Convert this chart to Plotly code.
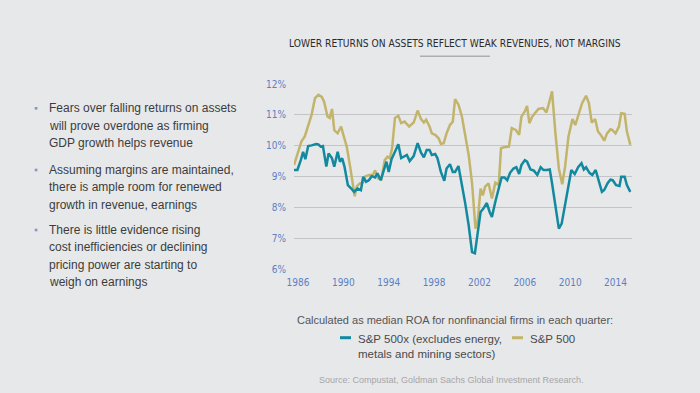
import plotly.graph_objects as go

# ---- data ----
sp500_years = [1985.65, 1986.3, 1986.6, 1986.9, 1987.2, 1987.5, 1987.8, 1988.1, 1988.3, 1988.6, 1988.8, 1989.0,
               1989.2, 1989.5, 1989.8, 1990.0, 1990.3, 1990.6, 1990.8, 1991.0, 1991.2, 1991.45, 1991.7, 1991.95,
               1992.3, 1992.6, 1992.8, 1993.05, 1993.35, 1993.65, 1993.9, 1994.1, 1994.3, 1994.55, 1994.85, 1995.1,
               1995.4, 1995.65, 1995.8, 1996.2, 1996.55, 1996.85, 1997.1, 1997.3, 1997.6, 1997.8, 1998.1, 1998.4,
               1998.6, 1998.85, 1999.1, 1999.4, 1999.65, 1999.85, 2000.15, 2000.45, 2000.75, 2001.05, 2001.35,
               2001.5, 2001.65, 2001.85, 2002.1, 2002.3, 2002.5, 2002.8, 2003.1, 2003.4, 2003.7, 2003.9, 2004.15,
               2004.6, 2004.85, 2005.2, 2005.5, 2005.7, 2006.0, 2006.2, 2006.4, 2006.65, 2006.9, 2007.2, 2007.6,
               2007.9, 2008.1, 2008.4, 2008.7, 2009.0, 2009.3, 2009.55, 2009.85, 2010.2, 2010.45, 2010.75, 2011.05,
               2011.4, 2011.65, 2011.9, 2012.2, 2012.45, 2012.7, 2013.0, 2013.25, 2013.55, 2013.7, 2014.0, 2014.3,
               2014.5, 2014.8, 2015.0, 2015.3]
sp500_roa = [9.37, 10.13, 10.3, 10.62, 11.0, 11.54, 11.65, 11.58, 11.43, 10.95, 10.9, 11.19,
             10.5, 10.4, 10.62, 10.35, 9.97, 9.32, 8.78, 8.36, 8.69, 8.78, 8.8, 9.01,
             9.05, 9.05, 9.2, 8.94, 8.9, 9.53, 9.64, 9.59, 9.92, 10.9, 10.97, 10.73,
             10.78, 10.67, 10.62, 10.75, 11.14, 10.86, 10.75, 10.84, 10.62, 10.4, 10.35, 10.24,
             10.06, 10.08, 10.4, 10.67, 10.78, 11.51, 11.33, 10.95, 10.35, 9.7, 8.78,
             8.01, 7.31, 7.58, 8.61, 8.39, 8.67, 8.78, 8.29, 8.8, 8.72, 9.92, 9.95,
             9.97, 10.57, 10.51, 10.35, 10.94, 11.11, 11.29, 10.73, 10.94, 11.05, 11.19, 11.22,
             11.08, 11.33, 11.76, 10.4, 9.26, 8.75, 9.32, 10.3, 10.86, 10.67, 11.05, 11.38,
             11.62, 11.38, 10.75, 10.86, 10.46, 10.35, 10.16, 10.4, 10.53, 10.51, 10.4, 10.62,
             11.05, 11.03, 10.46, 10.03]

sp500x_years = [1985.65, 1985.95, 1986.25, 1986.45, 1986.65, 1986.9, 1987.2, 1987.6, 1987.8, 1988.0, 1988.2,
                1988.5, 1988.7, 1989.0, 1989.2, 1989.5, 1989.7, 1989.9, 1990.1, 1990.4, 1990.7, 1990.95,
                1991.25, 1991.55, 1991.75, 1992.0, 1992.25, 1992.5, 1992.8, 1993.0, 1993.3, 1993.6, 1993.8,
                1994.0, 1994.25, 1994.55, 1994.85, 1995.1, 1995.35, 1995.6, 1995.85, 1996.2, 1996.55, 1996.85,
                1997.1, 1997.35, 1997.6, 1997.8, 1998.1, 1998.3, 1998.6, 1998.9, 1999.1, 1999.4, 1999.65,
                1999.85, 2000.15, 2000.45, 2000.75, 2001.05, 2001.35, 2001.6, 2001.85, 2002.1, 2002.35, 2002.65,
                2002.9, 2003.1, 2003.4, 2003.7, 2003.95, 2004.2, 2004.45, 2004.7, 2005.0, 2005.25, 2005.5,
                2005.7, 2006.0, 2006.2, 2006.5, 2006.8, 2007.1, 2007.4, 2007.65, 2007.95, 2008.2, 2008.4,
                2008.7, 2009.0, 2009.25, 2009.5, 2009.8, 2010.1, 2010.4, 2010.7, 2011.0, 2011.2, 2011.4,
                2011.7, 2011.95, 2012.25, 2012.5, 2012.8, 2013.0, 2013.3, 2013.55, 2013.75, 2014.05, 2014.35,
                2014.5, 2014.8, 2015.0, 2015.3]
sp500x_roa = [9.21, 9.21, 9.53, 9.8, 9.56, 9.99, 10.01, 10.05, 10.04, 9.97, 9.99,
              9.32, 9.75, 9.59, 9.32, 9.8, 9.48, 9.59, 9.32, 8.72, 8.61, 8.5,
              8.61, 8.56, 8.99, 8.83, 8.88, 9.01, 8.97, 9.1, 8.88, 9.26, 9.48,
              9.15, 9.56, 9.8, 10.05, 9.6, 9.64, 9.7, 9.5, 9.66, 10.08, 9.77,
              9.62, 9.86, 9.86, 9.7, 9.73, 9.59, 9.15, 8.86, 9.26, 9.4, 9.15,
              9.15, 9.34, 8.78, 8.12, 7.42, 6.55, 6.51, 7.26, 7.85, 7.96, 8.14,
              7.85, 7.69, 8.18, 8.61, 8.97, 8.97, 8.88, 9.12, 9.26, 9.3, 9.08,
              9.37, 9.53, 9.48, 9.23, 9.19, 9.05, 9.3, 9.21, 9.21, 9.23, 8.78,
              8.07, 7.31, 7.47, 7.96, 8.61, 9.21, 9.08, 9.3, 9.43, 9.23, 9.3,
              9.12, 9.05, 9.21, 8.88, 8.5, 8.56, 8.78, 8.9, 8.88, 8.72, 8.69,
              8.99, 8.99, 8.72, 8.5]

x_ticks = [1986, 1990, 1994, 1998, 2002, 2006, 2010, 2014]
y_ticks = [6, 7, 8, 9, 10, 11, 12]

title_text = "LOWER RETURNS ON ASSETS REFLECT WEAK REVENUES, NOT MARGINS"
bullets = [
    ["Fears over falling returns on assets", "will prove overdone as firming", "GDP growth helps revenue"],
    ["Assuming margins are maintained,", "there is ample room for renewed", "growth in revenue, earnings"],
    ["There is little evidence rising", "cost inefficiencies or declining", "pricing power are starting to", "weigh on earnings"],
]
caption = "Calculated as median ROA for nonfinancial firms in each quarter:"
legend_names = ["S&P 500x (excludes energy,<br>metals and mining sectors)", "S&P 500"]
source = "Source: Compustat, Goldman Sachs Global Investment Research."

TEAL = "#12899f"
GOLD = "#c3b46c"
BG = "#e7e8ea"
W, H = 700, 393
COND = "DejaVu Sans Condensed, Liberation Sans Narrow, Arial Narrow, sans-serif"

fig = go.Figure()
fig.add_trace(go.Scatter(x=sp500_years, y=sp500_roa, mode="lines", line=dict(color=GOLD, width=2.5),
                         showlegend=False))
fig.add_trace(go.Scatter(x=sp500x_years, y=sp500x_roa, mode="lines", line=dict(color=TEAL, width=2.5),
                         showlegend=False))

L, R, T, B = 294, 632, 84, 269
fig.update_layout(
    width=W, height=H, paper_bgcolor=BG, plot_bgcolor=BG,
    margin=dict(l=L, r=W - R, t=T, b=H - B),
    font=dict(family="Liberation Sans, Arial, sans-serif"),
    xaxis=dict(range=[1985.65, 2015.45], tickvals=x_ticks, ticktext=[str(v) for v in x_ticks],
               showgrid=False, zeroline=False, showline=False, ticks="", ticklabelstandoff=6,
               tickfont=dict(family=COND, size=10, color="#5b80c4")),
    yaxis=dict(range=[6, 12], tickvals=y_ticks, ticktext=[f"{v}%" for v in y_ticks],
               showgrid=True, gridcolor="#c4c4c8", gridwidth=1, zeroline=False, showline=False, ticks="",
               ticklabelstandoff=7,
               tickfont=dict(family=COND, size=10, color="#5b80c4")),
)

# convert page pixels to paper coordinates (paper = plot area)
def px2x(px):
    return (px - L) / (R - L)

def px2y(py):
    return (B - py) / (B - T)

ann = []
shapes = []
ann.append(dict(x=px2x(455), y=px2y(43), xref="paper", yref="paper", text=title_text, showarrow=False,
                xanchor="center", yanchor="middle",
                font=dict(family=COND, size=10.2, color="#2b2b2b")))
shapes.append(dict(type="line", xref="paper", yref="paper", x0=px2x(420), x1=px2x(490), y0=px2y(56.3), y1=px2y(56.3),
                   line=dict(color="#aeaeae", width=1.5)))

starts = [108.3, 170, 230]
for b, y0 in zip(bullets, starts):
    shapes.append(dict(type="rect", xref="paper", yref="paper", x0=px2x(34.8), x1=px2x(37.4),
                       y0=px2y(y0 - 1.3), y1=px2y(y0 + 1.3), line=dict(width=0), fillcolor="#7f98c8"))
    for i, line in enumerate(b):
        ann.append(dict(x=px2x(47), y=px2y(y0 + i * 17.4), xref="paper", yref="paper", text=line, showarrow=False,
                        xanchor="left", yanchor="middle", font=dict(size=12, color="#3c3c3c")))

ann.append(dict(x=px2x(455), y=px2y(320), xref="paper", yref="paper", text=caption, showarrow=False,
                xanchor="center", yanchor="middle", font=dict(size=11, color="#555555")))
# legend
leg = [(340, 356, TEAL, legend_names[0]), (512, 528, GOLD, legend_names[1])]
for x0, xt, c, name in leg:
    shapes.append(dict(type="line", xref="paper", yref="paper", x0=px2x(x0), x1=px2x(x0 + 11),
                       y0=px2y(337.7), y1=px2y(337.7), line=dict(color=c, width=3)))
    ann.append(dict(x=px2x(xt), y=px2y(331), xref="paper", yref="paper", text=name, showarrow=False,
                    xanchor="left", yanchor="top", align="left", font=dict(size=11.5, color="#4a4a4a")))

ann.append(dict(x=px2x(586), y=px2y(380), xref="paper", yref="paper", text=source, showarrow=False,
                xanchor="right", yanchor="middle", font=dict(size=9, color="#a6a6a8")))

fig.update_layout(annotations=ann, shapes=shapes)
fig.write_html("out.html", config={"displayModeBar": False},
               post_script="document.body.style.margin='0';document.body.style.overflow='hidden';")
